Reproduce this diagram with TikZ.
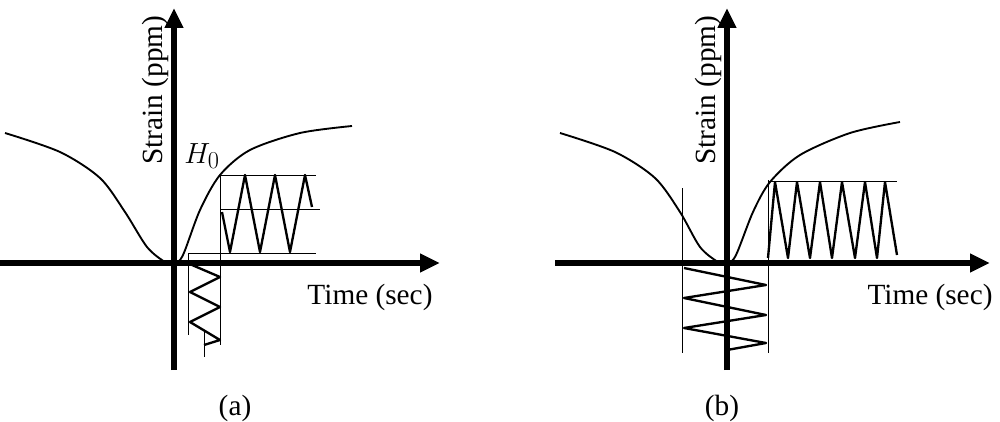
\documentclass[tikz,border=0pt]{standalone}
\usepackage{fontspec}
\setmainfont{Liberation Serif}
\usetikzlibrary{arrows.meta}
\tikzset{
  every picture/.style={
    >={Triangle[width=15pt, length=17pt]}
  },
  axis/.style={line width=5pt, ->},
  curve/.style={line width=1.6pt, smooth},
  thinline/.style={line width=0.8pt},
  wave/.style={line width=2pt, line join=round},
  lab/.style={font=\fontsize{25}{30}\selectfont, inner sep=0pt}
}
\begin{document}
\begin{tikzpicture}[x=0.03cm, y=-0.03cm]
  \useasboundingbox (0,0) rectangle (1000,422);
  % panel (a)
  \draw[axis] (174,370) coordinate(Oa) -- (174,8);
  \draw[axis] (0,263) -- (440,263);
  \draw[curve] plot coordinates {(5,133) (60,152) (100,178) (125,212) (147,247) (165,262)
     (174,264) (183,255) (200,210) (220,175) (250,150) (300,133) (352,126)};
  \draw[thinline] (220,175) -- (220,345);
  \draw[thinline] (220,175) -- (316,175);
  \draw[thinline] (220,209) -- (320,209);
  \draw[thinline] (188,253) -- (316,253);
  \draw[thinline] (188,253) -- (188,335);
  \draw[thinline] (204,330) -- (204,357);
  \draw[wave] (222,212) -- (230,252) -- (245,175) -- (260,252) -- (275,175)
     -- (290,252) -- (305,175) -- (312,207);
  \draw[wave] (192,265) -- (220,277) -- (190,292) -- (220,307) -- (190,322)
     -- (220,340) -- (204,345);
  \node[lab, rotate=90] at (155,90) {Strain (ppm)};
  \node[lab, font=\fontsize{29}{32}\selectfont] at (202,156) {$H_0$};
  \node[lab] at (370,297) {Time (sec)};
  \node[lab] at (235,408) {(a)};
  % panel (b)
  \draw[axis] (727,370) coordinate(Ob) -- (727,8);
  \draw[axis] (555,263) -- (990,263);
  \draw[curve] plot coordinates {(560,133) (615,152) (655,178) (680,212) (700,247) (718,262)
     (727,264) (736,255) (753,212) (770,182) (800,155) (850,133) (900,122)};
  \draw[thinline] (682,188) -- (682,353);
  \draw[thinline] (768,180) -- (768,353);
  \draw[thinline] (768,181) -- (897,181);
  \draw[wave] (768,258) -- (775,182) -- (788,258) -- (797,182) -- (810,258)
     -- (820,182) -- (832,258) -- (842,182) -- (855,258) -- (865,182)
     -- (877,258) -- (885,182) -- (897,255);
  \draw[wave] (684,268) -- (766,285) -- (684,298) -- (766,315) -- (684,328)
     -- (766,343) -- (727,350);
  \node[lab, rotate=90] at (708,90) {Strain (ppm)};
  \node[lab] at (930,297) {Time (sec)};
  \node[lab] at (722,408) {(b)};
\end{tikzpicture}
\end{document}
